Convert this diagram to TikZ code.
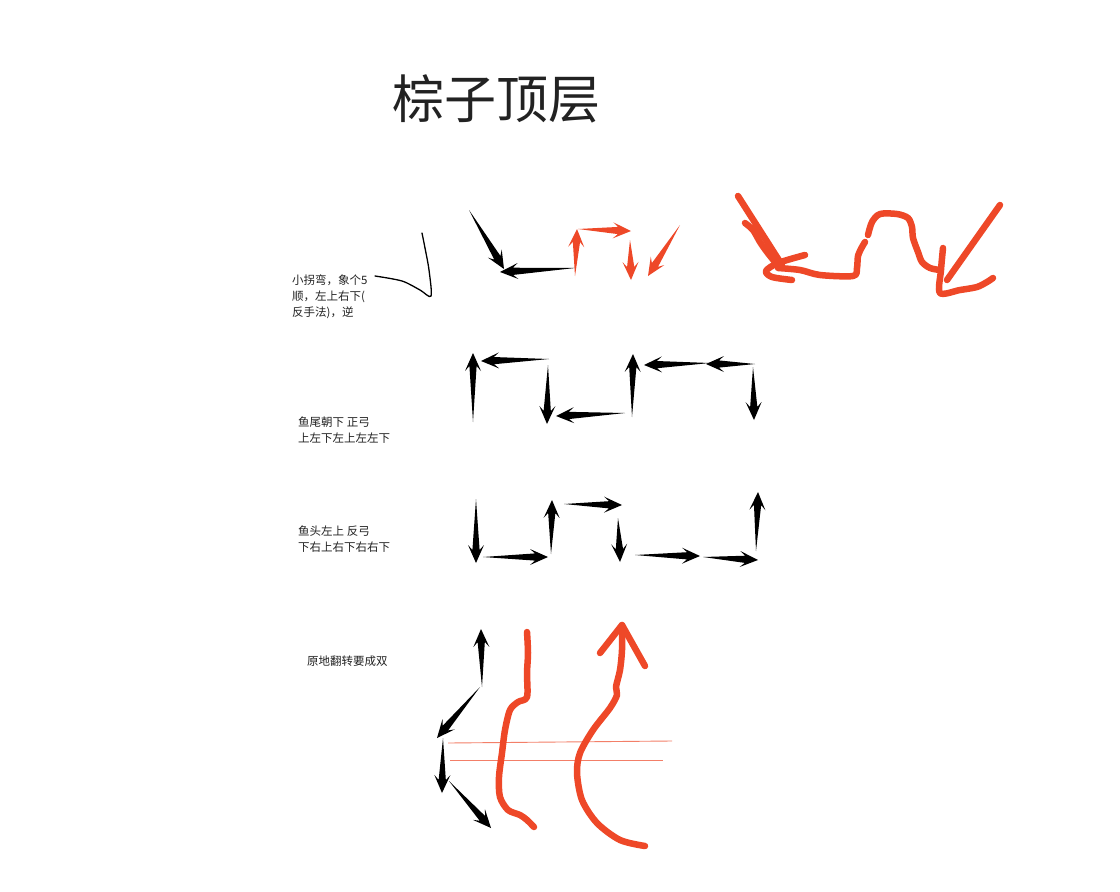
\documentclass[tikz,border=0pt]{standalone}
\usepackage{fontspec}
\newfontfamily\cjk{Noto Sans CJK SC}
\usetikzlibrary{calc}
\definecolor{penred}{RGB}{238,72,40}
\definecolor{inkgray}{RGB}{34,34,34}

% tapered hand-drawn arrow: colour, tail, head
\newcommand\brush[3]{%
  \path ($(#3)!13pt!(#2)$) coordinate (bn) ($(#3)!18pt!(#2)$) coordinate (bb);
  \fill[#1] (#2) -- ($(bn)!3.6pt!90:(#3)$) -- ($(bb)!8pt!90:(#3)$) -- (#3)
    -- ($(bb)!8pt!-90:(#3)$) -- ($(bn)!3.6pt!-90:(#3)$) -- cycle;}

\begin{document}
\begin{tikzpicture}[x=1pt,y=-1pt,
  note/.style={anchor=north west,inner sep=0pt,align=left,text=inkgray,font=\cjk\fontsize{11.5}{16}\selectfont},
  title/.style={inner sep=0pt,text=inkgray,font=\cjk\fontsize{52}{60}\selectfont},
  redpen/.style={draw=penred,line width=6.5pt,line cap=round,line join=round},
  fineline/.style={draw=penred!70,line width=0.9pt},
  inkline/.style={draw=black,line width=1.3pt,line cap=round}
]
\useasboundingbox[fill=white] (0,0) rectangle (1120,892);

\node[title] (head) at (496,99) {棕子顶层};

% labels
\node[note] (small) at (292,274) {小拐弯，象个5\\顺，左上右下(\\反手法)，逆};
\node[note] (tail) at (298,417) {鱼尾朝下 正弓\\上左下左上左左下};
\node[note] (fish) at (298,526) {鱼头左上 反弓\\下右上右下右右下};
\node[note] (flip) at (307,656) {原地翻转要成双};

% row 1
\draw[inkline] plot[smooth] coordinates {(375,276) (402,281) (420,290) (431,296) (429,270) (425,248) (422,233)};
\brush{black}{469,210}{504,269}
\brush{black}{575,268}{500,272}
\brush{penred}{575,276}{577,229}
\brush{penred}{578,229}{631,231}
\brush{penred}{630,240}{631,280}
\brush{penred}{680,225}{648,276}

\draw[redpen] (738,196) -- (782,265);
\draw[redpen] plot[smooth] coordinates {(745,223) (753,230) (760,242) (767,252) (775,262)};
\draw[redpen] plot[smooth] coordinates {(805,255) (778,263) (766,271) (772,277) (792,280)};
\draw[redpen] plot[smooth] coordinates {(778,268) (800,270) (820,275) (853,276) (857,268) (858,256) (862,247) (865,242)};
\draw[redpen] plot[smooth] coordinates {(868,235) (872,222) (880,214) (897,214) (908,218) (912,227) (913,238) (918,252) (922,262) (930,268) (940,270)};
\draw[redpen] (1000,205) -- (947,280);
\draw[redpen] plot[smooth] coordinates {(943,248) (941,270) (940,293) (960,290) (977,287) (987,282) (993,278)};

% row 2
\brush{black}{473,422}{473,353}
\brush{black}{549,359}{481,361}
\brush{black}{548,365}{547,424}
\brush{black}{625,413}{556,416}
\brush{black}{632,417}{633,354}
\brush{black}{710,363}{644,365}
\brush{black}{755,364}{706,364}
\brush{black}{753,367}{754,420}

% row 3
\brush{black}{476,499}{476,563}
\brush{black}{483,557}{548,557}
\brush{black}{551,554}{552,500}
\brush{black}{564,504}{622,505}
\brush{black}{618,518}{620,562}
\brush{black}{635,555}{700,556}
\brush{black}{703,557}{758,560}
\brush{black}{756,551}{758,492}

% row 4
\brush{black}{482,687}{481,629}
\brush{black}{480,687}{437,738}
\brush{black}{443,738}{442,793}
\brush{black}{449,781}{491,828}
\draw[fineline] (448,743) -- (672,741);
\draw[fineline] (450,760) -- (663,760);
\draw[redpen] plot[smooth] coordinates {(527,632) (528,653) (527,673) (527,697) (518,702) (510,710) (505,730) (502,753) (499,777) (500,797) (508,810) (520,815) (527,820) (534,827)};
\draw[redpen] plot[smooth] coordinates {(645,846) (620,840) (597,823) (582,800) (577,773) (580,753) (593,730) (610,708) (617,695) (616,687) (620,670) (622,650) (622,625)};
\draw[redpen] (600,653) -- (622,625) -- (645,666);
\end{tikzpicture}
\end{document}
